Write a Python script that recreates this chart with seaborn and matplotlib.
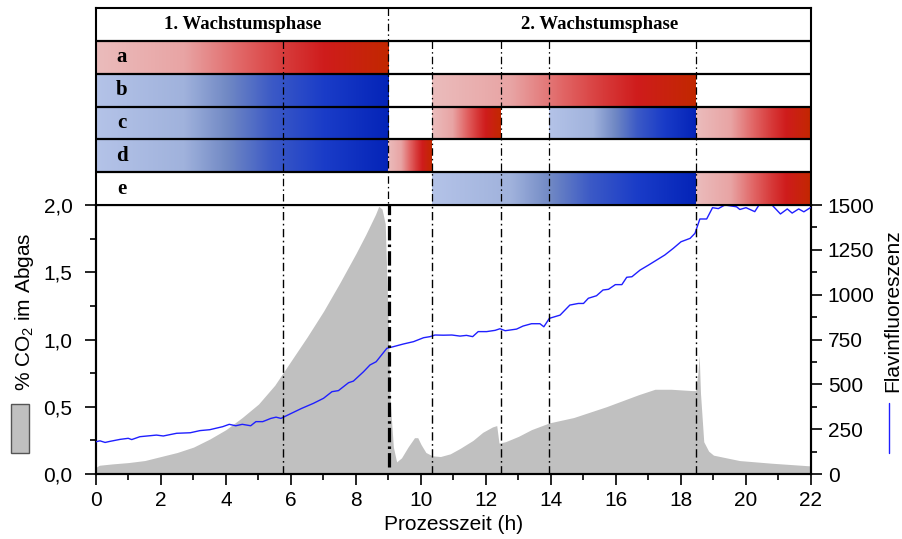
import numpy as np
import pandas as pd
import matplotlib
matplotlib.use("Agg")
import matplotlib.pyplot as plt
import seaborn as sns
from matplotlib.colors import LinearSegmentedColormap
from matplotlib.ticker import MultipleLocator
from matplotlib.lines import Line2D
from matplotlib.patches import Rectangle

# ---------------------------------------------------------------- data
co2_time = [0, 0.1, 0.5, 1, 1.5, 2, 2.5, 3, 3.5, 4, 4.5, 5, 5.5, 5.75, 6, 6.5,
            7, 7.5, 8, 8.3, 8.6, 8.7, 8.8, 8.9, 8.97, 9.05, 9.15, 9.25, 9.4,
            9.6, 9.8, 9.9, 10.0, 10.15, 10.35, 10.6, 10.9, 11.2, 11.6, 11.9,
            12.2, 12.33, 12.4, 12.6, 13.0, 13.4, 13.95, 14.7, 15.7, 16.7,
            17.2, 17.7, 18.35, 18.45, 18.52, 18.56, 18.6, 18.7, 18.85, 19.0,
            19.3, 19.8, 20.3, 20.8, 21.4, 22]
co2_percent = [0.05, 0.065, 0.075, 0.085, 0.10, 0.13, 0.16, 0.20, 0.26, 0.33,
               0.42, 0.52, 0.66, 0.75, 0.84, 1.02, 1.21, 1.42, 1.64, 1.78,
               1.93, 1.99, 1.97, 1.86, 1.30, 0.55, 0.20, 0.09, 0.12, 0.20,
               0.27, 0.27, 0.22, 0.16, 0.135, 0.13, 0.15, 0.19, 0.25, 0.31,
               0.35, 0.36, 0.23, 0.24, 0.28, 0.33, 0.38, 0.42, 0.50, 0.59,
               0.63, 0.63, 0.62, 0.62, 0.75, 0.88, 0.60, 0.24, 0.17, 0.14,
               0.125, 0.10, 0.09, 0.08, 0.07, 0.06]

flavin_time = [0, 0.12, 0.28, 0.43, 0.74, 0.99, 1.1, 1.35, 1.86, 2.07, 2.48,
               2.9, 3.2, 3.5, 3.9, 4.1, 4.3, 4.5, 4.76, 4.92, 5.13, 5.38,
               5.54, 5.69, 5.95, 6.33, 6.69, 7.0, 7.26, 7.46, 7.77, 7.92,
               8.23, 8.43, 8.62, 8.95, 9.15, 9.46, 9.77, 10.08, 10.28, 10.43,
               10.69, 10.95, 11.2, 11.4, 11.59, 11.76, 12.02, 12.28, 12.43,
               12.59, 12.94, 13.14, 13.4, 13.66, 13.78, 13.95, 14.28, 14.58,
               14.84, 15.0, 15.15, 15.4, 15.6, 15.77, 15.98, 16.18, 16.33,
               16.49, 16.74, 17.0, 17.25, 17.5, 17.76, 18.0, 18.28, 18.43,
               18.58, 18.79, 18.97, 19.15, 19.35, 19.71, 19.81, 20.0, 20.27,
               20.4, 20.8, 21.06, 21.27, 21.42, 21.62, 21.78, 21.98]
flavin_signal = [180, 185, 176, 182, 193, 199, 192, 208, 217, 212, 227,
                 230, 242, 247, 264, 277, 269, 277, 269, 292, 292, 310,
                 317, 310, 333, 366, 394, 422, 459, 465, 509, 518,
                 570, 608, 626, 701, 710, 725, 738, 760, 766, 775,
                 774, 775, 769, 773, 766, 794, 794, 801, 810,
                 799, 808, 825, 838, 838, 821, 868, 886, 942,
                 951, 951, 980, 994, 1026, 1030, 1056, 1056, 1097,
                 1100, 1137, 1165, 1193, 1221, 1258, 1295, 1314, 1342,
                 1422, 1422, 1485, 1480, 1500, 1490, 1475, 1485, 1463,
                 1500, 1500, 1450, 1478, 1455, 1478, 1462, 1485]

hour_ticks = list(range(0, 23, 2))
co2_ticks = [0.0, 0.5, 1.0, 1.5, 2.0]
co2_tick_labels = ["0,0", "0,5", "1,0", "1,5", "2,0"]
flavin_ticks = [0, 250, 500, 750, 1000, 1250, 1500]

phase_titles = ["1. Wachstumsphase", "2. Wachstumsphase"]
phase_ranges = [(0, 9.0), (9.0, 22)]
switch_times = [5.75, 9.0, 10.35, 12.45, 13.95, 18.45]

row_labels = ["a", "b", "c", "d", "e"]
seg_row = ["a", "b", "b", "c", "c", "c", "c", "d", "d", "e", "e"]
seg_start = [0, 0, 10.35, 0, 10.35, 13.95, 18.45, 0, 9.0, 10.35, 18.45]
seg_end = [9.0, 9.0, 18.45, 9.0, 12.45, 18.45, 22, 9.0, 10.35, 18.45, 22]
seg_kind = ["red", "blue", "red", "blue", "red", "blue", "red", "blue", "red",
            "blue", "red"]

co2_df = pd.DataFrame({"Zeit": co2_time, "CO2": co2_percent})
flavin_df = pd.DataFrame({"Zeit": flavin_time, "Flavin": flavin_signal})

# ---------------------------------------------------------------- style
sns.set_theme(style="ticks")
plt.rcParams["font.family"] = ["Liberation Sans", "DejaVu Sans"]
plt.rcParams["mathtext.fontset"] = "custom"
plt.rcParams["mathtext.rm"] = "Liberation Sans"
plt.rcParams["mathtext.it"] = "Liberation Sans:italic"
for key in ("text.color", "axes.labelcolor", "xtick.color", "ytick.color",
            "axes.edgecolor"):
    plt.rcParams[key] = "black"

red_cmap = LinearSegmentedColormap.from_list(
    "rot", [(0.0, "#ebbcbc"), (0.3, "#e8a4a4"), (0.5, "#e16464"),
            (0.65, "#d73a3a"), (0.78, "#cf1c1c"), (1.0, "#c22800")])
blue_cmap = LinearSegmentedColormap.from_list(
    "blau", [(0.0, "#b4c3e8"), (0.3, "#a0b2dc"), (0.45, "#7088c4"),
             (0.6, "#3c5ac6"), (0.78, "#1a3cc8"), (1.0, "#0424b8")])
cmaps = {"red": red_cmap, "blue": blue_cmap}

W, H = 903, 539
fig = plt.figure(figsize=(W / 100, H / 100), dpi=100)

left, right = 96 / W, 811 / W
ax_bottom, ax_top = 1 - 474 / H, 1 - 205 / H
panel_top = 1 - 8 / H

ax = fig.add_axes([left, ax_bottom, right - left, ax_top - ax_bottom])
ax2 = ax.twinx()
panel = fig.add_axes([left, ax_top, right - left, panel_top - ax_top])

dash = (0, (6, 2.5, 1.2, 2.5))
spine_w = 1.5

# ---------------------------------------------------------------- main plot
ax.fill_between(co2_df["Zeit"], 0, co2_df["CO2"], color="#c0c0c0", lw=0,
                zorder=1)
ax.set_xlim(0, 22)
ax.set_ylim(0, 2.0)
ax.set_xticks(hour_ticks)
ax.set_xticklabels([str(h) for h in hour_ticks])
ax.xaxis.set_minor_locator(MultipleLocator(1))
ax.set_yticks(co2_ticks)
ax.set_yticklabels(co2_tick_labels)
ax.yaxis.set_minor_locator(MultipleLocator(0.25))
ax.set_xlabel("Prozesszeit (h)", fontsize=15, labelpad=4)
ax.set_ylabel("")

sns.lineplot(data=flavin_df, x="Zeit", y="Flavin", ax=ax2, color="#1f1fff",
             lw=1.0, estimator=None, sort=False, zorder=3)
ax2.set_ylim(0, 1500)
ax2.set_yticks(flavin_ticks)
ax2.yaxis.set_minor_locator(MultipleLocator(125))
ax2.set_ylabel("")
ax2.set_xlim(0, 22)

for a in (ax, ax2):
    for s in a.spines.values():
        s.set_linewidth(spine_w)
        s.set_color("black")
    a.set_facecolor("none")
ax.tick_params(axis="both", which="major", direction="out", length=8,
               width=1.2, labelsize=15, color="black")
ax.tick_params(axis="both", which="minor", direction="out", length=4.5,
               width=1.2, color="black")
ax.tick_params(axis="y", which="major", pad=9)
ax.tick_params(axis="x", which="major", pad=4)
ax2.tick_params(axis="y", which="major", direction="out", length=8,
                width=1.2, labelsize=15, pad=4, color="black")
ax2.tick_params(axis="y", which="minor", direction="out", length=4.5,
                width=1.2, color="black")

for t in switch_times:
    if t == 9.0:
        ax2.axvline(t, ymin=0.027, ymax=1, color="black", lw=2.3,
                    ls=(0, (4.5, 1.3, 0.8, 1.3)), zorder=4)
    else:
        ax2.axvline(t, color="black", lw=1.0, ls=dash, zorder=4)

# ---------------------------------------------------------------- phase panel
panel.set_xlim(0, 22)
panel.set_ylim(6, 0)
gradient = np.linspace(0, 1, 256).reshape(1, -1)
for row, x0, x1, kind in zip(seg_row, seg_start, seg_end, seg_kind):
    r = row_labels.index(row) + 1
    panel.imshow(gradient, cmap=cmaps[kind], aspect="auto",
                 extent=[x0, x1, r + 1, r], interpolation="bilinear",
                 zorder=1)
panel.set_xlim(0, 22)
panel.set_ylim(6, 0)

for i, lab in enumerate(row_labels):
    panel.text(0.8, i + 1.5, lab, ha="center", va="center", fontsize=15,
               fontweight="bold", family=["Liberation Serif"], zorder=5)
for title, (x0, x1) in zip(phase_titles, phase_ranges):
    panel.text((x0 + x1) / 2, 0.5, title, ha="center", va="center",
               fontsize=13.5, fontweight="bold", family=["Liberation Serif"],
               zorder=5)

for y in range(1, 6):
    panel.axhline(y, color="black", lw=1.6, zorder=3)
for t in switch_times:
    y_top = 0 if t == 9.0 else 1
    panel.plot([t, t], [y_top, 6], color="black", lw=0.9, ls=dash, zorder=4)

panel.set_xticks([])
panel.set_yticks([])
for s in panel.spines.values():
    s.set_linewidth(spine_w)
    s.set_color("black")

# ---------------------------------------------------------------- axis labels
fig.text(25 / W, 1 - 312 / H, "% CO$_2$ im Abgas", rotation=90, ha="center",
         va="center", fontsize=15)
fig.text(893 / W, 1 - 311 / H, "Flavinfluoreszenz", rotation=90, ha="center",
         va="center", fontsize=15)
fig.add_artist(Rectangle((11 / W, 1 - 453 / H), 18 / W, 49 / H,
                         transform=fig.transFigure, fc="#c0c0c0",
                         ec="#555555", lw=1.0))
fig.add_artist(Line2D([889 / W, 889 / W], [1 - 403 / H, 1 - 453 / H],
                      transform=fig.transFigure, color="#1f1fff", lw=1.0))

fig.savefig("out.png", dpi=100)
